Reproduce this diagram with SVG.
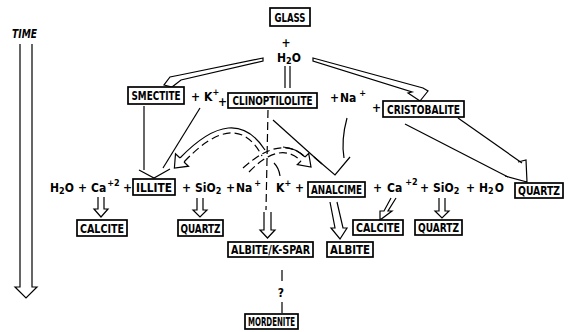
<svg xmlns="http://www.w3.org/2000/svg" width="568" height="332" viewBox="0 0 568 332">
<style>
  .bx rect { fill: #fff; stroke: #000; stroke-width: 1.7; }
  .bx text { font-family: "DejaVu Sans Condensed", "Liberation Sans Narrow", "Liberation Sans", sans-serif; font-weight: bold; font-size: 12px; text-anchor: middle; fill: #000; }
  .t { font-family: "DejaVu Sans Condensed", "Liberation Sans Narrow", "Liberation Sans", sans-serif; font-weight: bold; font-size: 12px; fill: #000; }
  .sup { font-size: 9px; }
  .sub { font-size: 9px; }
  .ln { fill: none; stroke: #000; stroke-width: 1.2; }
  .ho { fill: #fff; stroke: #000; stroke-width: 1.2; stroke-linejoin: miter; }
  .ds { fill: none; stroke: #000; stroke-width: 1.2; stroke-dasharray: 8 4; }
</style>

<g id="connectors">
  <!-- time arrow -->
  <path class="ln" d="M20 44 V287 H15 L26 298 L37 287 H32 V44"/>
  <!-- H2O to smectite (hollow) -->
  <path class="ho" d="M263 58 L180 75 L170 77 L164 85 L172 87 L181 80 L263 61 Z"/>
  <!-- H2O to cristobalite (hollow) -->
  <path class="ho" d="M313 58 L423 88 L428 91 L420 101 L408 93 L412 92 L313 61 Z"/>
  <!-- H2O to clinoptilolite -->
  <path class="ln" d="M285 66 V88 M290 66 V88"/>
  <!-- smectite + K to illite -->
  <path class="ln" d="M144 106 V170"/>
  <path class="ln" d="M200 108 L163 168"/>
  <path class="ln" d="M139 170 L154 178 L170 169"/>
  <!-- clinoptilolite + Na to analcime -->
  <path class="ln" d="M273 120 L322 164"/>
  <path class="ln" d="M347 118 Q341 140 344 158"/>
  <path class="ln" d="M314 157 L335 175 L350 157"/>
  <!-- cristobalite to quartz -->
  <path class="ln" d="M405 124 L508 177"/>
  <path class="ln" d="M458 118 L522 163"/>
  <path class="ln" d="M505 176 L527 182 L526 160 L518 162"/>
  <!-- dashed vertical -->
  <path class="ds" d="M268 110 L266 210"/>
  <!-- curved hollow arrow to illite -->
  <path class="ln" d="M180 158 Q234 102 265 150"/>
  <path class="ds" d="M184 162 Q236 107 262 156"/>
  <path class="ho" d="M180 158 L175.5 153.8 L174.4 168 L188.5 166.2 L184 162"/>
  <!-- curved hollow arrow to analcime -->
  <path class="ds" d="M243 168 Q281 134 305 157"/>
  <path class="ds" d="M249 172 Q280 140 301 161"/>
  <path class="ln" d="M283 147 Q296 148 305 157"/>
  <path class="ho" d="M305 157 L308.7 153.4 L311 167 L297.3 164.6 L301 161"/>
  <path class="ln" d="M274 163 Q279 168 280 176"/>
  <!-- small hollow down arrows -->
  <path class="ho" d="M98 197 V209 H94 L101 217 L108 209 H104 V197"/>
  <path class="ho" d="M197 198 V210 H193 L200 217 L207 210 H203 V198"/>
  <path class="ho" d="M264 212 V230 H260 L267.5 238 L275 230 H271 V212"/>
  <path class="ho" d="M330 202 L335 228 H331 L340 239 L347 228 H343 L337 202"/>
  <path class="ho" d="M391 198 L384 211 H380 L380 220 L392 211 L388 211 L396 198"/>
  <path class="ho" d="M439 198 V211 H435 L442 218 L449 211 H445 V198"/>
  <!-- albite/k-spar to mordenite -->
  <path class="ln" d="M282 270 V281 M282 302 V313"/>
</g>

<g id="GLASS" class="bx"><rect x="270" y="8" width="40" height="18"/><text x="290" y="21.5" textLength="31" lengthAdjust="spacingAndGlyphs">GLASS</text></g>
<g id="SMECTITE" class="bx"><rect x="128" y="87" width="56" height="17"/><text x="156" y="100" textLength="49" lengthAdjust="spacingAndGlyphs">SMECTITE</text></g>
<g id="CLINOPTILOLITE" class="bx"><rect x="228" y="93" width="89" height="15"/><text x="272.5" y="105" textLength="80" lengthAdjust="spacingAndGlyphs">CLINOPTILOLITE</text></g>
<g id="CRISTOBALITE" class="bx"><rect x="383" y="101" width="81" height="16"/><text x="423.5" y="113.5" textLength="73" lengthAdjust="spacingAndGlyphs">CRISTOBALITE</text></g>
<g id="ILLITE" class="bx"><rect x="133" y="179" width="42" height="16"/><text x="154" y="191.5" textLength="36" lengthAdjust="spacingAndGlyphs">ILLITE</text></g>
<g id="ANALCIME" class="bx"><rect x="308" y="182" width="57" height="15"/><text x="336.5" y="194" font-size="11" textLength="51" lengthAdjust="spacingAndGlyphs">ANALCIME</text></g>
<g id="QUARTZ1" class="bx"><rect x="515" y="183" width="48" height="15"/><text x="539" y="195" textLength="42" lengthAdjust="spacingAndGlyphs">QUARTZ</text></g>
<g id="CALCITE1" class="bx"><rect x="77" y="220" width="50" height="16"/><text x="102" y="232.5" textLength="44" lengthAdjust="spacingAndGlyphs">CALCITE</text></g>
<g id="QUARTZ2" class="bx"><rect x="178" y="220" width="45" height="16"/><text x="200.5" y="232.5" textLength="40" lengthAdjust="spacingAndGlyphs">QUARTZ</text></g>
<g id="CALCITE2" class="bx"><rect x="353" y="220" width="50" height="15"/><text x="378" y="232" textLength="44" lengthAdjust="spacingAndGlyphs">CALCITE</text></g>
<g id="QUARTZ3" class="bx"><rect x="415" y="220" width="47" height="15"/><text x="438.5" y="232" textLength="41" lengthAdjust="spacingAndGlyphs">QUARTZ</text></g>
<g id="ALBITE_KSPAR" class="bx"><rect x="228" y="242" width="85" height="15"/><text x="270.5" y="254" textLength="79" lengthAdjust="spacingAndGlyphs">ALBITE/K-SPAR</text></g>
<g id="ALBITE" class="bx"><rect x="327" y="242" width="46" height="15"/><text x="350" y="254" textLength="40" lengthAdjust="spacingAndGlyphs">ALBITE</text></g>
<g id="MORDENITE" class="bx"><rect x="245" y="314" width="53" height="15"/><text x="271.5" y="326" textLength="47" lengthAdjust="spacingAndGlyphs">MORDENITE</text></g>

<g id="labels">
  <text class="t" x="12" y="38" font-style="italic" textLength="25" lengthAdjust="spacingAndGlyphs">TIME</text>
  <text class="t" x="286" y="47" text-anchor="middle">+</text>
  <text class="t" x="277" y="62">H<tspan class="sub" dy="2">2</tspan><tspan dy="-2">O</tspan></text>
  <text class="t" x="191" y="101">+</text>
  <text class="t" x="204" y="101">K<tspan class="sup" dy="-6">+</tspan></text>
  <text class="t" x="218" y="106">+</text>
  <text class="t" x="330" y="102">+</text>
  <text class="t" x="340" y="102">Na<tspan class="sup" dx="3" dy="-6">+</tspan></text>
  <text class="t" x="372" y="112">+</text>
  <text class="t" x="50" y="192">H<tspan class="sub" dy="2">2</tspan><tspan dy="-2">O</tspan></text>
  <text class="t" x="78" y="192">+</text>
  <text class="t" x="91" y="192">Ca<tspan class="sup" dx="1" dy="-6">+2</tspan></text>
  <text class="t" x="123" y="192">+</text>
  <text class="t" x="182" y="192">+</text>
  <text class="t" x="195" y="192">SiO<tspan class="sub" dy="2">2</tspan></text>
  <text class="t" x="226" y="192">+</text>
  <text class="t" x="236" y="192">Na<tspan class="sup" dx="2" dy="-6">+</tspan></text>
  <text class="t" x="276" y="192">K<tspan class="sup" dy="-6">+</tspan></text>
  <text class="t" x="295" y="192">+</text>
  <text class="t" x="373" y="192">+</text>
  <text class="t" x="387" y="192">Ca<tspan class="sup" dx="3" dy="-7">+2</tspan></text>
  <text class="t" x="420" y="192">+</text>
  <text class="t" x="433" y="192">SiO<tspan class="sub" dy="2">2</tspan></text>
  <text class="t" x="466" y="192">+</text>
  <text class="t" x="479" y="192">H<tspan class="sub" dy="2">2</tspan><tspan dx="1" dy="-2">O</tspan></text>
  <text class="t" x="281" y="297" text-anchor="middle">?</text>
</g>
</svg>
